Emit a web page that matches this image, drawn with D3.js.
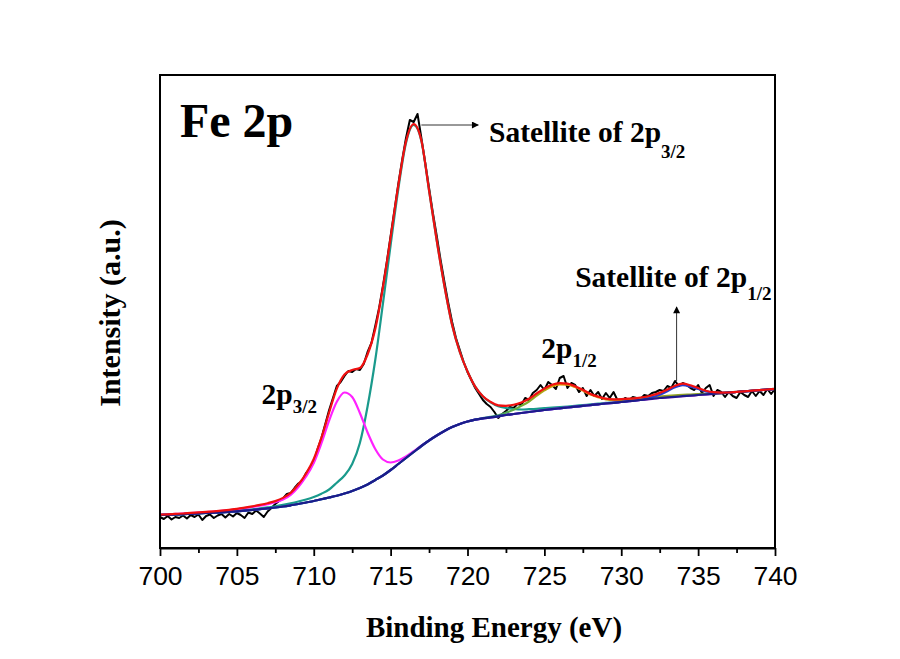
<!DOCTYPE html>
<html><head><meta charset="utf-8">
<script src="https://cdn.jsdelivr.net/npm/d3@7"></script>
<style>body{margin:0;background:#fff}svg{display:block}</style>
</head><body><svg id="chart" width="900" height="659"></svg>
<script>
// ---------------- data ----------------
const xTickValues = [700,705,710,715,720,725,730,735,740];
const xMinorTicks = [702.5,707.5,712.5,717.5,722.5,727.5,732.5,737.5];

// fitted curves sampled every 0.5 eV
const fitEnergy = [700,700.5,701,701.5,702,702.5,703,703.5,704,704.5,705,705.5,706,706.5,707,707.5,708,708.5,709,709.5,710,710.5,711,711.5,712,712.5,713,713.5,714,714.5,715,715.5,716,716.5,717,717.5,718,718.5,719,719.5,720,720.5,721,721.5,722,722.5,723,723.5,724,724.5,725,725.5,726,726.5,727,727.5,728,728.5,729,729.5,730,730.5,731,731.5,732,732.5,733,733.5,734,734.5,735,735.5,736,736.5,737,737.5,738,738.5,739,739.5,740];

const background = [33,33.2,33.5,33.8,34.2,34.6,35,35.3,35.7,36.2,36.7,37.3,38,38.8,39.6,40.5,41.5,42.7,44,45.5,47,48.8,50.5,52.3,54.5,57,60,63.5,68,72.5,78,84,90,96,102,107.5,112.5,117,121,124,126.5,128.3,129.6,130.6,131.7,133,134,135,136,137,138,138.9,139.7,140.5,141.3,142.1,142.9,143.7,144.5,145.2,146,146.8,147.6,148.4,149.2,150,150.6,151.2,151.8,152.4,153,153.6,154.2,154.8,155.4,156,156.6,157.2,157.8,158.4,159];

const peak2p32 = [33.4,33.7,34.1,34.5,35.0,35.5,36.0,36.5,37.2,37.9,38.7,39.8,41.0,42.3,43.8,45.7,48.5,53.2,61,71.5,85,104.8,127.5,146.3,155.5,151,135,115.5,99,88.5,85.5,87.5,91.5,96.8,102.4,107.7,112.5,117,121,124,126.5,128.3,129.6,130.6,131.7,133,134,135,136,137,138,138.9,139.7,140.5,141.3,142.1,142.9,143.7,144.5,145.2,146,146.8,147.6,148.4,149.2,150,150.6,151.2,151.8,152.4,153,153.6,154.2,154.8,155.4,156,156.6,157.2,157.8,158.4,159];

const satellite2p32 = [33,33.2,33.5,33.8,34.3,34.7,35.1,35.5,35.9,36.5,37.1,37.8,38.6,39.6,40.6,41.7,43.1,44.7,46.5,48.5,51,54.3,58.5,65.3,72.5,84,105,141.5,188,244.5,303,359,405,423,407,357.5,307.5,262,223,196,176.5,161.3,151.6,145.6,141.7,140,139,138.5,138.8,139.2,139.8,140.4,140.9,141.5,142.2,142.9,143.6,144.3,145.1,145.7,146.5,147.2,148,148.7,149.5,150.3,150.8,151.4,152,152.6,153.1,153.7,154.3,154.9,155.5,156.1,156.7,157.3,157.9,158.5,159.1];

const peak2p12 = [33,33.2,33.5,33.8,34.2,34.6,35,35.3,35.7,36.2,36.7,37.3,38,38.8,39.6,40.5,41.5,42.7,44,45.5,47,48.8,50.5,52.3,54.5,57,60,63.5,68,72.5,78,84,90,96,102,107.5,112.5,117,121,124,126.5,128.4,129.8,131.1,132.7,135.2,138.2,142.1,146.5,152.3,157.6,161.8,163.7,163.4,160.9,157.4,153.4,150.8,148.7,148.2,148.4,148.9,149.5,150.2,150.9,151.6,152.1,152.6,153.1,153.5,153.9,154.2,154.5,154.9,155.4,156,156.6,157.2,157.8,158.4,159];

const satellite2p12 = [33,33.2,33.5,33.8,34.2,34.6,35,35.3,35.7,36.2,36.7,37.3,38,38.8,39.6,40.5,41.5,42.7,44,45.5,47,48.8,50.5,52.3,54.5,57,60,63.5,68,72.5,78,84,90,96,102,107.5,112.5,117,121,124,126.5,128.3,129.6,130.6,131.7,133,134,135,136,137,138,138.9,139.7,140.5,141.3,142.1,142.9,143.7,144.5,145.2,146,146.8,147.6,148.9,150.7,153.2,156.8,160.7,162.8,161.4,159,156.6,155.4,155.2,155.4,156,156.6,157.2,157.8,158.4,159];

const envelope = [33.4,33.7,34.1,34.5,35.1,35.6,36.1,36.7,37.4,38.2,39.1,40.3,41.6,43.1,44.8,46.9,50.1,55.2,63.5,74.5,89,110.3,135.5,159.3,173.5,178,180,193.5,219,260.5,310.5,362.5,406.5,423.8,407.4,357.7,307.5,262,223,196,176.5,161.4,151.8,146.1,142.7,142.2,143.2,145.6,149.3,154.5,159.4,163.3,164.9,164.4,161.8,158.2,154.1,151.4,149.3,148.7,148.9,149.3,149.9,151,152.7,155.1,158.5,162.3,164.3,162.7,160,157.3,155.8,155.4,155.5,156.1,156.7,157.3,157.9,158.5,159.1];

// measured spectrum every 0.25 eV
const rawEnergy = [700,700.25,700.5,700.75,701,701.25,701.5,701.75,702,702.25,702.5,702.75,703,703.25,703.5,703.75,704,704.25,704.5,704.75,705,705.25,705.5,705.75,706,706.25,706.5,706.75,707,707.25,707.5,707.75,708,708.25,708.5,708.75,709,709.25,709.5,709.75,710,710.25,710.5,710.75,711,711.25,711.5,711.75,712,712.25,712.5,712.75,713,713.25,713.5,713.75,714,714.25,714.5,714.75,715,715.25,715.5,715.75,716,716.25,716.5,716.75,717,717.25,717.5,717.75,718,718.25,718.5,718.75,719,719.25,719.5,719.75,720,720.25,720.5,720.75,721,721.25,721.5,721.75,722,722.25,722.5,722.75,723,723.25,723.5,723.75,724,724.25,724.5,724.75,725,725.25,725.5,725.75,726,726.25,726.5,726.75,727,727.25,727.5,727.75,728,728.25,728.5,728.75,729,729.25,729.5,729.75,730,730.25,730.5,730.75,731,731.25,731.5,731.75,732,732.25,732.5,732.75,733,733.25,733.5,733.75,734,734.25,734.5,734.75,735,735.25,735.5,735.75,736,736.25,736.5,736.75,737,737.25,737.5,737.75,738,738.25,738.5,738.75,739,739.25,739.5,739.75,740];

const rawIntensity = [31,29,32,28.5,31,30,32.5,29.5,33,31,33.5,28,32,33.5,30,32.5,34,30.5,34,31.5,35,33,30,35.5,34,37.5,34.5,31,36.5,40,44,47,49.5,54,55,60,64.5,67,75,80,86,99,110,124,138,150,162,166,172,177,176,179,178,184,196,205,222,240,262,286,312,338,364,388,410,428,426,434,410,385,360,335,312,288,266,245,226,210,198,186,176,168,160,154,148,144,141,136,130,134,137,141,140,144,143,150,148,155,158,163,158,166,163,159,170,172,160,165,163,156,160,152,158,152,156,149,155,150,156,148,147,150,148,151,150,149,153,152,155,156,158,157,162,160,167,162,165,163,160,158,163,155,160,163,152,158,156,151,156,152,150,156,153,151,157,152,157,153,159,154,159];

// annotations (data coordinates)
const annotations = [
  {main:"2p", sub:"3/2", e:706.6, v:144, subDy:9},
  {main:"2p", sub:"1/2", e:724.8, v:190, subDy:9},
  {main:"Satellite of 2p", sub:"3/2", e:721.4, v:406, subDy:16},
  {main:"Satellite of 2p", sub:"1/2", e:727.0, v:261, subDy:13}
];
const arrows = [
  {e1:717.0, v1:423, e2:720.7, v2:423},
  {e1:733.6, v1:167, e2:733.6, v2:241}
];

// ---------------- drawing ----------------
const svg = d3.select("#chart");
const x = d3.scaleLinear().domain([700,740]).range([160,775]);
const y = d3.scaleLinear().domain([0,473]).range([548,75]);
const serif = "'Times New Roman','Liberation Serif',serif";

const defs = svg.append("defs");
defs.append("marker").attr("id","arr").attr("viewBox","0 0 10 10")
  .attr("refX",9).attr("refY",5).attr("markerWidth",11).attr("markerHeight",7)
  .attr("markerUnits","userSpaceOnUse").attr("orient","auto")
  .append("path").attr("d","M0,0L10,5L0,10Z").attr("fill","#000");

const grad = defs.append("linearGradient").attr("id","g12")
  .attr("gradientUnits","userSpaceOnUse")
  .attr("x1",x(721)).attr("x2",x(737)).attr("y1",0).attr("y2",0);
[[0,"#2a9a8a"],[0.15,"#6aae3a"],[0.3,"#d8a000"],[0.42,"#e89010"],[0.6,"#a8a818"],[1,"#7aa030"]]
  .forEach(s=>grad.append("stop").attr("offset",s[0]).attr("stop-color",s[1]));

const fitLine = d3.line().x((d,i)=>x(fitEnergy[i])).y(d=>y(d)).curve(d3.curveMonotoneX);
const rawLine = d3.line().x((d,i)=>x(rawEnergy[i])).y(d=>y(d));

const plot = svg.append("g");
plot.append("path").datum(rawIntensity).attr("d",rawLine)
  .attr("fill","none").attr("stroke","#000").attr("stroke-width",2).attr("stroke-linejoin","round");

const fits = [
  {d:satellite2p32, c:"#1a9a8c"},
  {d:peak2p32, c:"#ff22ff"},
  {d:peak2p12, c:"url(#g12)"},
  {d:satellite2p12, c:"#2a3ccc"},
  {d:background, c:"#1c1c88"},
  {d:envelope, c:"#f01010"}
];
fits.forEach(f=>{
  plot.append("path").datum(f.d).attr("d",fitLine)
    .attr("fill","none").attr("stroke",f.c).attr("stroke-width",2.2).attr("stroke-linejoin","round");
});

// frame
svg.append("rect").attr("x",160).attr("y",75).attr("width",615).attr("height",473)
  .attr("fill","none").attr("stroke","#000").attr("stroke-width",2);

// x axis
const ax = svg.append("g").attr("transform","translate(0,548)")
  .call(d3.axisBottom(x).tickValues(xTickValues).tickSize(8).tickSizeOuter(0).tickPadding(10).tickFormat(d3.format("d")));
ax.select(".domain").attr("stroke-width",2);
ax.selectAll(".tick line").attr("stroke-width",1.8);
ax.selectAll("text").attr("font-family","Arial,'Liberation Sans',sans-serif").attr("font-size",26.5).attr("fill","#000");
const axm = svg.append("g").attr("transform","translate(0,548)")
  .call(d3.axisBottom(x).tickValues(xMinorTicks).tickSize(5).tickFormat(""));
axm.select(".domain").remove();
axm.selectAll(".tick line").attr("stroke-width",1.8);

// titles
svg.append("text").attr("x",494).attr("y",637).attr("text-anchor","middle")
  .attr("font-family",serif).attr("font-weight","bold").attr("font-size",29).text("Binding Energy (eV)");
svg.append("text").attr("transform","translate(120,313) rotate(-90)").attr("text-anchor","middle")
  .attr("font-family",serif).attr("font-weight","bold").attr("font-size",30).text("Intensity (a.u.)");
svg.append("text").attr("x",x(701.3)).attr("y",y(411))
  .attr("font-family",serif).attr("font-weight","bold").attr("font-size",48).text("Fe 2p");

annotations.forEach(a=>{
  const t = svg.append("text").attr("x",x(a.e)).attr("y",y(a.v))
    .attr("font-family",serif).attr("font-weight","bold").attr("font-size",29.5);
  t.append("tspan").text(a.main);
  t.append("tspan").attr("dy",a.subDy).attr("font-size",19).text(a.sub);
});
arrows.forEach(a=>{
  svg.append("line").attr("x1",x(a.e1)).attr("y1",y(a.v1)).attr("x2",x(a.e2)).attr("y2",y(a.v2))
    .attr("stroke","#333").attr("stroke-width",1).attr("marker-end","url(#arr)");
});
</script></body></html>
